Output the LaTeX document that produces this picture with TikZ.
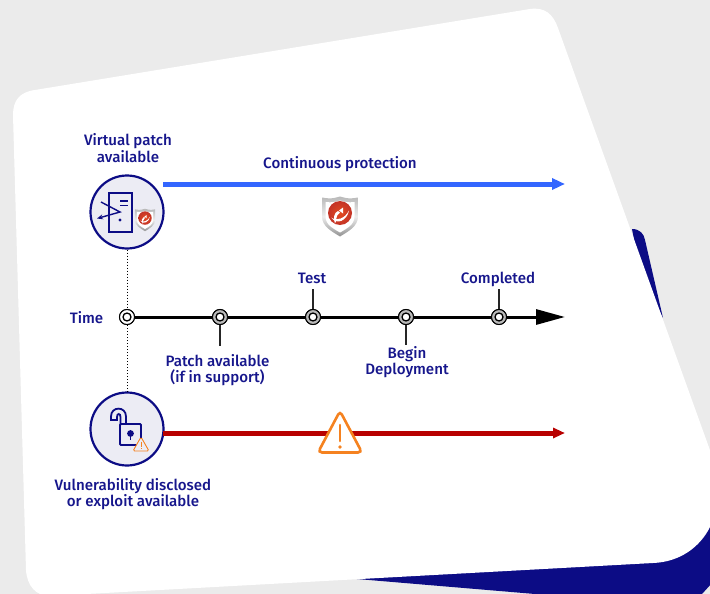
\documentclass[tikz,border=0pt]{standalone}
\usepackage{fontspec}
\setmainfont{Fira Sans Medium}
\usetikzlibrary{arrows.meta}
\definecolor{bgc}{HTML}{EBEBEB}
\definecolor{navy}{HTML}{0C0C85}
\definecolor{txtc}{HTML}{16168C}
\definecolor{blueline}{HTML}{3366FF}
\definecolor{redline}{HTML}{B80000}
\definecolor{warn}{HTML}{F58220}
\definecolor{circfill}{HTML}{ECECF4}
\definecolor{shieldred}{HTML}{D9392B}
\tikzset{
  x=1pt,y=-1pt,
  lbl/.style={text=txtc,font=\fontsize{15.1}{16.5}\selectfont,align=center,inner sep=0pt},
  bigcirc/.style={circle,draw=navy,line width=2.2pt,fill=circfill,minimum size=73pt,inner sep=0pt},
  tick/.style={circle,draw=black,line width=1pt,fill=#1,minimum size=15pt,inner sep=0pt,
     path picture={\draw[black,line width=1.3pt,fill=white] (path picture bounding box.center) circle (4pt);}},
  tick/.default={gray!55},
  stem/.style={draw=black!85,line width=1.1pt},
  iconline/.style={draw=navy,line width=1.4pt},
  tmshield/.pic={
    \shade[top color=gray!55,bottom color=gray!85,middle color=gray!15] (-18,-19) .. controls (-8,-17) and (-4,-19) .. (0,-20) .. controls (4,-19) and (8,-17) .. (18,-19)
       -- (18,0) .. controls (18,10) and (8,15) .. (0,20) .. controls (-8,15) and (-18,10) .. (-18,0) -- cycle;
    \fill[white] (-14.5,-14.5) .. controls (-8,-13.5) and (-4,-15) .. (0,-16) .. controls (4,-15) and (8,-13.5) .. (14.5,-14.5)
       -- (14.5,0) .. controls (14.5,8) and (7,12) .. (0,16) .. controls (-7,12) and (-14.5,8) .. (-14.5,0) -- cycle;
    \shade[inner color=shieldred!75!orange,outer color=shieldred!90!black] (0,-3.5) circle (12);
    \fill[white] (-9,1) .. controls (-3,5) and (5,2) .. (9,-6) .. controls (7,4) and (-3,9) .. (-9,1) -- cycle;
    \fill[white] (-1,-6) -- (3,-9) -- (3,-3) -- cycle;
    \fill[white] (-2,-5.5) .. controls (-6,-4) and (-7,2) .. (-5,7) .. controls (-3,5) and (-5,-1) .. (0,-4) -- cycle;
  }
}
\begin{document}
\begin{tikzpicture}
\useasboundingbox (0,0) rectangle (710,594);
\clip (0,0) rectangle (710,594);
\fill[bgc] (0,0) rectangle (710,594);
% navy back sheet
\fill[navy] (632,229) .. controls (640,229) and (644,234) .. (645,240) -- (663,318) -- (640,270) -- cycle;
\fill[navy] (357,579) -- (535,594) -- (702,594) -- (712,583) -- (712,520) -- (650,550) -- cycle;
% white sheet
\fill[white] (13,115) .. controls (13,100) and (20,92) .. (35,90) -- (530,9)
  .. controls (545,7) and (553,14) .. (558,28) -- (720,478) -- (720,505) -- (710,527)
  .. controls (700,547) and (680,562) .. (653,563) -- (50,596)
  .. controls (36,596) and (27,586) .. (26,570) -- cycle;

% nodes
\node[bigcirc] (vp) at (127,212) {};
\node[bigcirc] (vu) at (127,429) {};
\node[tick=white] (t0) at (127,317) {};
\node[tick] (t1) at (220,317) {};
\node[tick] (t2) at (313,317) {};
\node[tick] (t3) at (406,317) {};
\node[tick] (t4) at (499,317) {};
\coordinate (tend) at (565,317);
\coordinate (bend) at (565,184);
\coordinate (rend) at (565,433);
\coordinate (bstart) at (163,184);
\coordinate (rstart) at (163,433);
\coordinate (s1) at (220,346);
\coordinate (s2) at (313,289);
\coordinate (s3) at (406,345);
\coordinate (s4) at (499,289);

% connectors
\draw[black,line width=1pt,dotted] (vp) -- (t0);
\draw[black,line width=1pt,dotted] (t0) -- (vu);
\draw[black,line width=3pt,-{Triangle[length=29pt,width=15pt]}] (t0) -- (t1) -- (t2) -- (t3) -- (t4) -- (tend);
\draw[blueline,line width=5pt,-{Triangle[length=13pt,width=11pt]}] (bstart) -- (bend);
\draw[redline,line width=5pt,-{Triangle[length=12pt,width=10pt]}] (rstart) -- (rend);
\draw[stem] (t1) -- (s1);
\draw[stem] (t2) -- (s2);
\draw[stem] (t3) -- (s3);
\draw[stem] (t4) -- (s4);
\node[tick=white] at (t0) {};
\node[tick] at (t1) {};
\node[tick] at (t2) {};
\node[tick] at (t3) {};
\node[tick] at (t4) {};

% labels
\node[lbl] (l1) at (128,148) {Virtual patch\\available};
\node[lbl] (l2) at (340,164) {Continuous protection};
\node[lbl] (l3) at (86.5,318) {Time};
\node[lbl] (l4) at (312,278) {Test};
\node[lbl] (l5) at (498,279) {Completed};
\node[lbl] (l6) at (217.5,370) {Patch available\\(if in support)};
\node[lbl] (l7) at (407,362) {Begin\\Deployment};
\node[lbl] (l8) at (133,494) {Vulnerability disclosed\\or exploit available};

% server icon
\draw[iconline] (109,193) rectangle (132,232);
\draw[iconline] (120,201) -- (128,201) (120,205.5) -- (128,205.5);
\fill[navy] (120,220) circle (1.6);
\draw[iconline,-{Stealth[length=6pt,width=5pt]},fill=none] (101,202) -- (120,212) -- (97,218.5);
\pic[scale=0.56] at (145,220) {tmshield};
\pic at (340,216.5) {tmshield};

% lock icon
\draw[navy,line width=1.8pt,rounded corners=1pt] (120,424) rectangle (141,445);
\draw[navy,line width=1.8pt,rounded corners=0.5pt] (111,420) -- (111,417) .. controls (111,406) and (126,406) .. (126,417) -- (126,424);
\draw[navy,line width=1.8pt] (110.2,420) -- (117,420) -- (117,417) .. controls (117,413) and (120.5,413) .. (120.5,417) -- (120.5,424);
\fill[navy] (130.5,433.5) circle (3.4);
\draw[navy,line width=1.9pt] (130.5,434) -- (130.5,440);
\draw[warn,line width=0.9pt,rounded corners=1.5pt,fill=circfill] (141,437) -- (149,451) -- (133,451) -- cycle;
\draw[warn,line width=0.9pt] (141,441.5) -- (141,446.5) (141,448) -- (141,449);

% big warning
\draw[warn,line width=2.6pt,rounded corners=4pt,fill=white] (340,411) -- (362,452.5) -- (318,452.5) -- cycle;
\draw[warn,line width=2.6pt,line cap=round] (340,425) -- (340,441);
\fill[warn] (340,447) circle (1.9);
\end{tikzpicture}
\end{document}
